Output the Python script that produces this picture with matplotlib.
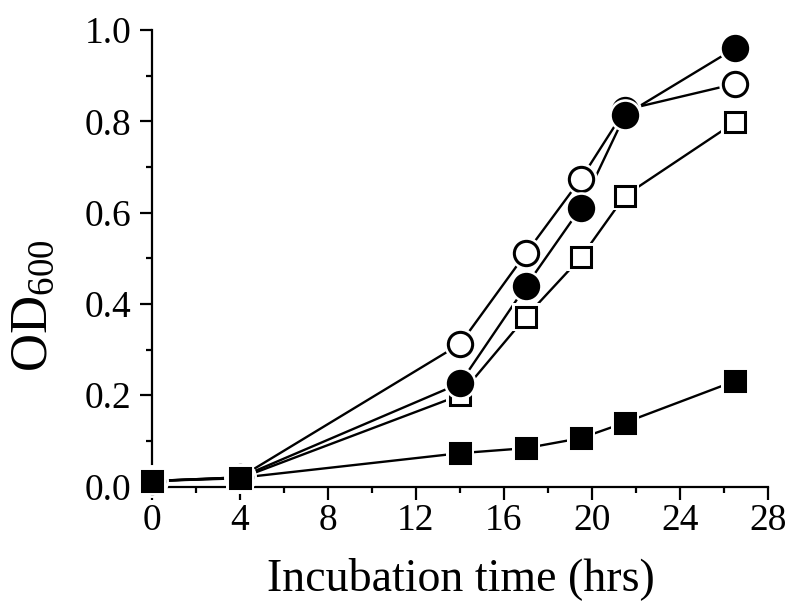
import numpy as np
import matplotlib
matplotlib.use('Agg')
import matplotlib.pyplot as plt
from matplotlib.ticker import MultipleLocator, FormatStrFormatter

plt.rcParams['font.family'] = ['Liberation Serif', 'DejaVu Serif']
plt.rcParams['mathtext.fontset'] = 'custom'
plt.rcParams['mathtext.rm'] = 'Liberation Serif'
plt.rcParams['mathtext.it'] = 'Liberation Serif:italic'

# incubation time (hrs)
time = [0, 4, 14, 17, 19.5, 21.5, 26.5]

# OD600 readings for the four cultures
open_square = [0.012, 0.018, 0.200, 0.372, 0.502, 0.637, 0.798]
open_circle = [0.012, 0.020, 0.312, 0.511, 0.674, 0.825, 0.882]
filled_circle = [0.012, 0.020, 0.226, 0.439, 0.611, 0.814, 0.960]
filled_square = [0.012, 0.019, 0.073, 0.084, 0.106, 0.140, 0.231]

series = [
    (open_square, 's', 'white', 14.5),
    (open_circle, 'o', 'white', 17.5),
    (filled_circle, 'o', 'black', 17.5),
    (filled_square, 's', 'black', 14.5),
]

fig = plt.figure(figsize=(7.96, 6.03), dpi=100)
ax = fig.add_axes([152/796, 1-486.5/603, 616/796, 456.5/603])

z = 3
for vals, mk, face, ms in series:
    ax.plot(time, vals, color='black', lw=1.7, zorder=2, clip_on=False)
for vals, mk, face, ms in series:
    # white halo so the lines stop short of the symbols
    ax.plot(time, vals, ls='none', marker=mk, ms=ms + 6, mfc='white',
            mec='white', mew=0, zorder=z, clip_on=False)
    ax.plot(time, vals, ls='none', marker=mk, ms=ms, mfc=face,
            mec='black', mew=2.2, zorder=z + 1, clip_on=False)
    z += 2

ax.set_xlim(0, 28)
ax.set_ylim(0, 1.0)
ax.xaxis.set_major_locator(MultipleLocator(4))
ax.xaxis.set_minor_locator(MultipleLocator(2))
ax.yaxis.set_major_locator(MultipleLocator(0.2))
ax.yaxis.set_minor_locator(MultipleLocator(0.1))
ax.yaxis.set_major_formatter(FormatStrFormatter('%.1f'))

for s in ['top', 'right']:
    ax.spines[s].set_visible(False)
for s in ['left', 'bottom']:
    ax.spines[s].set_linewidth(1.6)

ax.tick_params(which='major', direction='out', length=9, width=1.6, labelsize=27)
ax.tick_params(axis='y', which='major', pad=6)
ax.tick_params(axis='x', which='major', pad=3)
ax.tick_params(which='minor', direction='out', length=4.5, width=1.6)

fig.text(461/796, 1-590/603, 'Incubation time (hrs)', fontsize=33,
         ha='center', va='baseline')
fig.text(47/796, 1-306/603, r'$\mathrm{OD}_{600}$', fontsize=38,
         rotation=90, rotation_mode='anchor', ha='center', va='baseline')

plt.savefig('out.png', dpi=100)
